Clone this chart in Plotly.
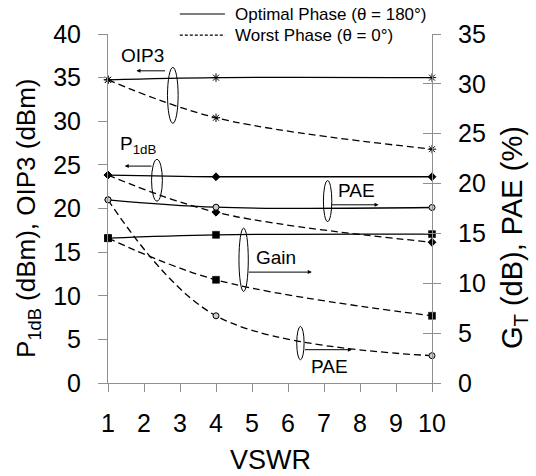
import plotly.graph_objects as go

vswr = [1, 4, 10]
oip3_opt = [34.75, 35.0, 35.0]
oip3_worst = [34.75, 30.4, 26.8]
p1db_opt = [23.83, 23.64, 23.64]
p1db_worst = [23.83, 19.57, 16.13]
pae_opt = [18.37, 17.63, 17.6]
pae_worst = [18.37, 6.74, 2.74]
gain_opt = [14.53, 14.86, 14.93]
gain_worst = [14.53, 10.35, 6.74]

left_ticks = [0, 5, 10, 15, 20, 25, 30, 35, 40]
right_ticks = [0, 5, 10, 15, 20, 25, 30, 35]
x_ticks = list(range(1, 11))

legend_names = ["Optimal Phase (θ = 180°)", "Worst Phase (θ = 0°)"]

FONT = "Liberation Sans, Arial, sans-serif"
AX = "#8f8f8f"
DASH = "7px,4px"

fig = go.Figure()

def add(y, dash, sym, size, color, yaxis, lw=1.3, mline=1):
    fig.add_trace(go.Scatter(
        x=vswr, y=y, mode="lines+markers", yaxis=yaxis, showlegend=False,
        line=dict(color="black", width=lw, dash=dash, shape="spline"),
        marker=dict(symbol=sym, size=size, color=color,
                    line=dict(color="black", width=mline)),
        cliponaxis=False))

add(oip3_opt, "solid", "asterisk", 7, "black", "y")
add(oip3_worst, DASH, "asterisk", 7, "black", "y")
add(p1db_opt, "solid", "diamond", 6, "black", "y")
add(p1db_worst, DASH, "diamond", 6, "black", "y")
add(pae_opt, "solid", "circle", 6, "#cccccc", "y2")
add(pae_worst, DASH, "circle", 6, "#cccccc", "y2")
add(gain_opt, "solid", "square", 7, "black", "y2", mline=0.5)
add(gain_worst, DASH, "square", 7, "black", "y2", mline=0.5)

shapes = []
annotations = []

# manual legend (paper coords)
for name, dash, yy in [(legend_names[0], "solid", 1.0573), (legend_names[1], "3px,2px", 0.997)]:
    shapes.append(dict(type="line", xref="paper", yref="paper", x0=0.2217, x1=0.3609,
                       y0=yy, y1=yy, line=dict(color="black", width=1.2, dash=dash)))
    annotations.append(dict(text=name, xref="paper", yref="paper", x=0.3856, y=yy,
                            xanchor="left", yanchor="middle", showarrow=False,
                            font=dict(size=17, family=FONT, color="black")))

def ellipse(x0, x1, y0, y1, yref):
    shapes.append(dict(type="circle", xref="x", yref=yref, x0=x0, x1=x1, y0=y0, y1=y1,
                       line=dict(color="black", width=1)))

ellipse(2.653, 2.948, 29.77, 36.17, "y")
ellipse(2.21, 2.51, 20.84, 25.63, "y")
ellipse(6.984, 7.217, 16.19, 20.3, "y2")
ellipse(4.638, 4.897, 9.18, 15.53, "y2")
ellipse(6.243, 6.447, 2.33, 5.67, "y2")

def label(text, x, y, yref):
    annotations.append(dict(text=text, x=x, y=y, xref="x", yref=yref, showarrow=False,
                            font=dict(size=19, color="black", family=FONT)))
def arrow(x0, x1, y, yref):
    annotations.append(dict(text="", x=x1, y=y, ax=x0, ay=y, xref="x", yref=yref,
                            axref="x", ayref=yref, showarrow=True, arrowhead=2,
                            arrowsize=0.8, arrowwidth=1, arrowcolor="black"))

label("OIP3", 1.947, 37.5, "y")
arrow(2.625, 1.79, 35.78, "y")
label("P<sub>1dB</sub>", 1.82, 27.3, "y")
arrow(2.25, 1.465, 24.86, "y")
label("PAE", 7.90, 19.34, "y2")
arrow(7.17, 8.515, 17.87, "y2")
label("Gain", 5.673, 12.57, "y2")
arrow(4.87, 6.66, 11.12, "y2")
label("PAE", 7.16, 1.66, "y2")
arrow(6.427, 7.774, 3.34, "y2")

# axis titles
annotations.append(dict(text="P<sub>1dB</sub> (dBm), OIP3 (dBm)", xref="paper", yref="paper",
                        x=-0.248, y=0.472, textangle=-90, showarrow=False,
                        xanchor="center", yanchor="middle",
                        font=dict(size=26, family=FONT, color="black")))
annotations.append(dict(text="G<sub>T</sub> (dB), PAE (%)", xref="paper", yref="paper",
                        x=1.253, y=0.418, textangle=-90, showarrow=False,
                        xanchor="center", yanchor="middle",
                        font=dict(size=29, family=FONT, color="black")))
annotations.append(dict(text="VSWR", xref="paper", yref="paper", x=0.5, y=-0.222,
                        showarrow=False, xanchor="center", yanchor="middle",
                        font=dict(size=27, family=FONT, color="black")))

axis_common = dict(showline=True, linecolor=AX, linewidth=1, ticks="outside",
                   tickcolor=AX, showgrid=False, zeroline=False,
                   automargin=False,
                   tickfont=dict(size=25, color="black", family=FONT))

fig.update_layout(
    width=536, height=476,
    margin=dict(l=108, r=104, t=34, b=93),
    paper_bgcolor="white", plot_bgcolor="white",
    font=dict(family=FONT, color="black"),
    showlegend=False,
    xaxis=dict(range=[1, 10], tickvals=x_ticks, ticklen=8, ticklabelstandoff=10, **axis_common),
    yaxis=dict(range=[0, 40], tickvals=left_ticks, ticklen=9, ticklabelstandoff=12, **axis_common),
    yaxis2=dict(range=[0, 35], tickvals=right_ticks, overlaying="y", side="right",
                ticklen=8, ticklabelstandoff=12, anchor="x", **axis_common),
    yaxis3=dict(range=[0, 35], tickvals=right_ticks, overlaying="y", side="right",
                anchor="x", ticks="inside", ticklen=9, tickcolor=AX, showticklabels=False,
                showline=False, showgrid=False, zeroline=False, automargin=False),
    shapes=shapes, annotations=annotations,
)
# dummy trace to activate the inner tick axis
fig.add_trace(go.Scatter(x=[None], y=[None], yaxis="y3", showlegend=False, hoverinfo="skip"))

fig.write_html("out.html")
